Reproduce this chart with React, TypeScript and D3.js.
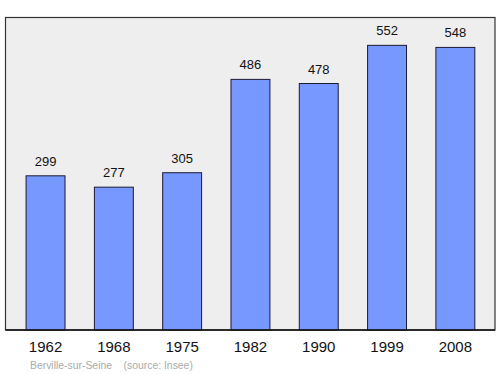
import React from "react";
import * as d3 from "d3";

const years = ["1962", "1968", "1975", "1982", "1990", "1999", "2008"];
const population = [299, 277, 305, 486, 478, 552, 548];
const sourceLabel = "Berville-sur-Seine    (source: Insee)";

export default function App() {
  const W = 500, H = 374;
  const frame = { x0: 5.5, y0: 17.5, x1: 495, y1: 330 };
  const x = d3.scaleBand<string>().domain(years).range([11.4, 489.5]).paddingInner(0.43).paddingOuter(0.215);
  const y = d3.scaleLinear().domain([0, 600]).range([330, 20.6]);
  return (
    <svg width={W} height={H} style={{ position: "absolute", left: 0, top: 0 }} fontFamily="'Liberation Sans', Arial, sans-serif">
      <rect x={frame.x0} y={frame.y0} width={frame.x1 - frame.x0} height={frame.y1 - frame.y0} fill="#eeeeee" stroke="#333" strokeWidth={1.2} />
      {population.map((v, i) => {
        const bx = x(years[i])!;
        const bw = x.bandwidth();
        return (
          <g key={years[i]}>
            <rect x={bx} y={y(v)} width={bw} height={y(0) - y(v)} fill="#7799ff" stroke="#1a1a33" strokeWidth={1} />
            <text x={bx + bw / 2} y={y(v) - 10} textAnchor="middle" fontSize={13} fill="#111">{v}</text>
            <text x={bx + bw / 2} y={352} textAnchor="middle" fontSize={15} fill="#111">{years[i]}</text>
          </g>
        );
      })}
      <line x1={frame.x0} x2={frame.x1} y1={330} y2={330} stroke="#111" strokeWidth={1.5} />
      <text x={30} y={369} fontSize={10.4} fill="#aaaaaa" style={{ whiteSpace: "pre" }}>{sourceLabel}</text>
    </svg>
  );
}
